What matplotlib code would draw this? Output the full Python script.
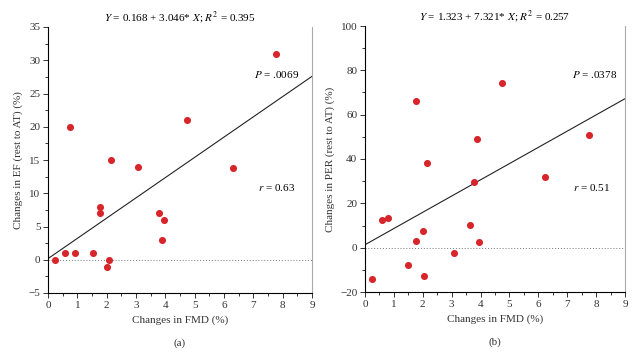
import matplotlib.pyplot as plt
from matplotlib.ticker import MultipleLocator

plt.rcParams['font.family'] = ['Liberation Serif', 'DejaVu Serif']
plt.rcParams['mathtext.fontset'] = 'stix'

# Panel (a): changes in FMD vs changes in EF
fmd_a = [0.24, 0.58, 0.93, 1.52, 1.76, 1.76, 2.00, 2.07, 0.76, 2.15, 3.08,
         3.80, 3.94, 3.89, 4.74, 6.29, 7.76]
ef_a = [0.0, 1.0, 1.0, 1.0, 7.9, 7.0, -1.1, 0.0, 20.0, 15.0, 13.9,
        7.0, 6.0, 2.9, 21.0, 13.8, 31.0]

# Panel (b): changes in FMD vs changes in PER
fmd_b = [0.24, 0.58, 0.78, 1.50, 1.78, 2.02, 2.05, 3.09, 3.62, 3.79, 3.96,
         6.22, 1.78, 2.15, 3.89, 4.74, 7.76]
per_b = [-14.2, 12.5, 13.3, -8.0, 3.2, 7.5, -13.0, -2.4, 10.1, 29.4, 2.7,
         32.1, 66.2, 38.2, 48.8, 74.3, 50.7]

fit_a = (0.168, 3.046)
fit_b = (1.323, 7.321)

red = '#d7262b'
fs = 8

fig = plt.figure(figsize=(6.4, 3.54), dpi=100)
ax_a = fig.add_axes([48 / 640, 1 - 293 / 354, 264 / 640, 266 / 354])
ax_b = fig.add_axes([365 / 640, 1 - 292 / 354, 260 / 640, 266 / 354])


def style(ax, ymin, ymax, major, minor):
    ax.set_xlim(0, 9)
    ax.set_ylim(ymin, ymax)
    ax.xaxis.set_major_locator(MultipleLocator(1))
    ax.xaxis.set_minor_locator(MultipleLocator(0.5))
    ax.yaxis.set_major_locator(MultipleLocator(major))
    ax.yaxis.set_minor_locator(MultipleLocator(minor))
    ax.spines['top'].set_visible(False)
    ax.spines['right'].set_color('#aaaaaa')
    for s in ['left', 'bottom']:
        ax.spines[s].set_linewidth(0.8)
    ax.tick_params(which='major', length=3.5, width=0.7, labelsize=fs, pad=2,
                   colors='#333333')
    ax.tick_params(which='minor', length=2.5, width=0.7, colors='#333333')
    ax.axhline(0, color='#777777', linestyle=(0, (1, 2)), linewidth=0.7, zorder=1)


def panel(ax, x, y, fit, title, ylabel, ptxt, rtxt, ppos, rpos, tag):
    xs = [0, 9]
    ax.plot(xs, [fit[0] + fit[1] * v for v in xs], color='#222222', linewidth=0.8, zorder=2)
    ax.scatter(x, y, s=26, color=red, zorder=3, linewidths=0)
    ax.set_title(title, fontsize=fs, pad=4)
    ax.set_ylabel(ylabel, fontsize=fs, labelpad=4, color='#333333')
    ax.set_xlabel('Changes in FMD (%)', fontsize=fs, labelpad=4, color='#333333')
    ax.text(ppos[0], ppos[1], ptxt, fontsize=fs, ha='center', va='center')
    ax.text(rpos[0], rpos[1], rtxt, fontsize=fs, ha='center', va='center')
    ax.text(0.5, -0.188, tag, transform=ax.transAxes, fontsize=fs, ha='center',
            va='center', color='#333333')


style(ax_a, -5, 35, 5, 2.5)
style(ax_b, -20, 100, 20, 10)

panel(ax_a, fmd_a, ef_a, fit_a,
      r'$Y$ = 0.168 + 3.046* $X$; $R^2$ = 0.395',
      'Changes in EF (rest to AT) (%)',
      r'$P$ = .0069', r'$r$ = 0.63', (7.8, 27.9), (7.8, 10.8), '(a)')
panel(ax_b, fmd_b, per_b, fit_b,
      r'$Y$ = 1.323 + 7.321* $X$; $R^2$ = 0.257',
      'Changes in PER (rest to AT) (%)',
      r'$P$ = .0378', r'$r$ = 0.51', (7.94, 78.3), (7.84, 27.1), '(b)')

fig.savefig('out.png', dpi=100)
